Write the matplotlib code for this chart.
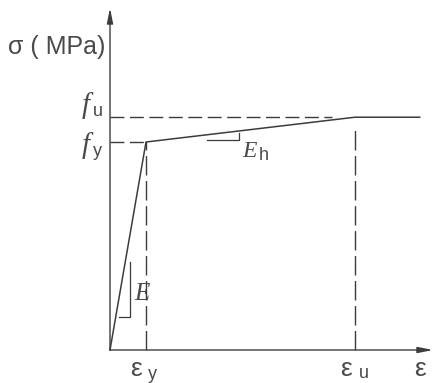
import matplotlib.pyplot as plt

# idealised stress-strain curve for structural steel
eps_y, eps_u = 0.002, 0.0136      # yield / ultimate strain
eps_end = 0.0172                  # end of drawn plateau
f_y, f_u = 235.0, 263.0           # yield / ultimate stress, MPa

strain = [0.0, eps_y, eps_u, eps_end]
stress = [0.0, f_y, f_u, f_u]

ink = '#3c3c3c'
txt = '#4a4a4a'
sans = ['Liberation Sans', 'DejaVu Sans']
serif = ['Liberation Serif', 'DejaVu Serif']

fig = plt.figure(figsize=(4.38, 3.83), dpi=100)
ax = fig.add_axes([110 / 438, 33 / 383, 323 / 438, 342 / 383])
ax.set_xlim(0, 0.01794)
ax.set_ylim(0, 386.4)
ax.axis('off')

# axes with arrow heads
arrow = dict(arrowstyle='-|>,head_length=0.9,head_width=0.18', color=ink, lw=1.0,
             shrinkA=0, shrinkB=0)
ax.annotate('', xy=(1, 0), xytext=(0, 0), xycoords='axes fraction', arrowprops=arrow)
ax.annotate('', xy=(0, 1), xytext=(0, 0), xycoords='axes fraction', arrowprops=arrow)

# curve
ax.plot(strain, stress, color=ink, lw=1.1, clip_on=False)

# guide lines
dash = (0, (10, 4))
ax.plot([0, eps_y], [f_y, f_y], color=ink, lw=1.0, ls=dash)
ax.plot([0, eps_u * 0.905], [f_u, f_u], color=ink, lw=1.0, ls=dash)
ax.plot([eps_y, eps_y], [0, f_y], color=ink, lw=1.0, ls=(0, (14, 4)))
ax.plot([eps_u, eps_u], [0, f_u - 9], color=ink, lw=1.0, ls=(0, (14, 4)))

# slope markers
ax.plot([0.0005, 0.00111, 0.00111], [37.3, 37.3, 99.4], color=ink, lw=0.9)
ax.plot([0.00539, 0.00717, 0.00717], [237.3, 237.3, 245.0], color=ink, lw=0.9)

# labels
fig.text(8 / 438, 1 - 47 / 383, 'σ ( MPa)', family=sans, fontsize=18,
         color=txt, va='center', ha='left')

def sub_label(x, y, main, sub, dx, dy, ms, ss, mfam, sdx, sdy):
    ax.annotate(main, xy=(x, y), xytext=(dx, dy), textcoords='offset pixels',
                family=mfam, style='italic' if mfam is serif else 'normal',
                fontsize=ms, color=txt, ha='left', va='baseline')
    ax.annotate(sub, xy=(x, y), xytext=(dx + sdx, dy + sdy), textcoords='offset pixels',
                family=sans, fontsize=ss, color=txt, ha='left', va='baseline')

sub_label(0, f_u, 'f', 'u', -28, 4, 21, 13, serif, 11, -3)
sub_label(0, f_y, 'f', 'y', -28, -11, 21, 13, serif, 11, -3)
sub_label(0.00111, 37.3, 'E', '', 4, 17, 18, 10, serif, 0, 0)
sub_label(0.00717, 237.3, 'E', 'h', 3, -17, 17, 13, serif, 17, -3)

sub_label(eps_y, 0, 'ε', 'y', -16, -26, 19, 13, sans, 18, -3)
sub_label(eps_u, 0, 'ε', 'u', -15, -26, 19, 13, sans, 19, -2)
ax.annotate('ε', xy=(1, 0), xycoords='axes fraction', xytext=(-19, -26),
            textcoords='offset pixels', family=sans, fontsize=19, color=txt,
            ha='left', va='baseline')

fig.savefig('out.png', dpi=100)
